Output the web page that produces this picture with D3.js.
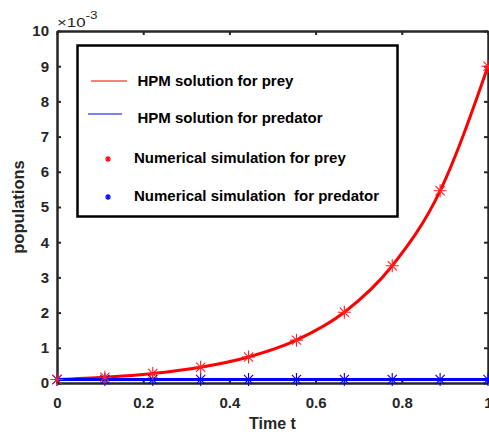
<!DOCTYPE html>
<html><head><meta charset="utf-8">
<script src="https://cdn.jsdelivr.net/npm/d3@7"></script>
<style>body{margin:0;background:#fff}svg{display:block}</style>
</head><body>
<svg id="c" width="489" height="432"></svg>
<script>
const tValues = [0, 0.1111, 0.2222, 0.3333, 0.4444, 0.5556, 0.6667, 0.7778, 0.8889, 1.0];
const preyValues = [0.10, 0.165, 0.272, 0.448, 0.739, 1.218, 2.009, 3.33, 5.46, 9.0];
const predatorValues = [0.10, 0.10, 0.10, 0.10, 0.10, 0.10, 0.10, 0.10, 0.10, 0.10];
const xTicks = [0, 0.2, 0.4, 0.6, 0.8, 1];
const yTicks = [0,1,2,3,4,5,6,7,8,9,10];
const legendLabels = ["HPM solution for prey","HPM solution for predator","Numerical simulation for prey","Numerical simulation  for predator"];

const svg = d3.select("#c");
const L=57,R=488,T=31,B=383;
const x = d3.scaleLinear().domain([0,1]).range([L,R]);
const y = d3.scaleLinear().domain([0,10]).range([B,T]);
const axisColor="#262626";
const font="'Liberation Sans', Arial, Helvetica, sans-serif";

// axes
const gx = svg.append("g").attr("transform",`translate(0,${B})`)
  .call(d3.axisBottom(x).tickValues(xTicks).tickFormat(d3.format("")).tickSizeInner(-4).tickSizeOuter(0).tickPadding(14));
const gxt = svg.append("g").attr("transform",`translate(0,${T})`)
  .call(d3.axisTop(x).tickValues(xTicks).tickFormat("").tickSizeInner(-4).tickSizeOuter(0));
const gy = svg.append("g").attr("transform",`translate(${L},0)`)
  .call(d3.axisLeft(y).tickValues(yTicks).tickFormat(d3.format("d")).tickSizeInner(-4).tickSizeOuter(0).tickPadding(8));
const gyr = svg.append("g").attr("transform",`translate(${R},0)`)
  .call(d3.axisRight(y).tickValues(yTicks).tickFormat("").tickSizeInner(-4).tickSizeOuter(0));
[gx,gxt,gy,gyr].forEach(g=>{
  g.select(".domain").attr("stroke",axisColor).attr("stroke-width",2.5);
  g.selectAll(".tick line").attr("stroke",axisColor).attr("stroke-width",2);
  g.selectAll("text").attr("fill",axisColor).style("font-family",font).style("font-size","15px").style("font-weight","bold");
});

// lines
const line = d3.line().x((d,i)=>x(tValues[i])).y(d=>y(d)).curve(d3.curveMonotoneX);
svg.append("path").datum(preyValues).attr("d",line).attr("fill","none").attr("stroke","#ff0000").attr("stroke-width",3);
svg.append("path").datum(predatorValues).attr("d",line).attr("fill","none").attr("stroke","#0000ff").attr("stroke-width",3);

function star(g, cx, cy, r, color, sw){
  const a = r*0.7071;
  const p = `M${cx-r},${cy}L${cx+r},${cy}M${cx},${cy-r}L${cx},${cy+r}M${cx-a},${cy-a}L${cx+a},${cy+a}M${cx-a},${cy+a}L${cx+a},${cy-a}`;
  g.append("path").attr("d",p).attr("stroke",color).attr("stroke-width",sw).attr("fill","none");
}
const mk = svg.append("g");
predatorValues.forEach((v,i)=>star(mk,x(tValues[i]),y(v),6.5,"#0000ff",1.1));
preyValues.forEach((v,i)=>star(mk,x(tValues[i]),y(v),6.5,"#ff2020",1.1));

// exponent
const ex = svg.append("text").attr("transform","translate(57,27) scale(1.35,1)").attr("fill",axisColor).style("font-family",font).style("font-size","12.5px");
ex.append("tspan").text("×10");
ex.append("tspan").attr("dy",-8).style("font-size","10px").text("-3");

// axis labels
svg.append("text").attr("x",(L+R)/2).attr("y",429).attr("text-anchor","middle").attr("fill",axisColor)
  .style("font-family",font).style("font-size","16px").style("font-weight","bold").text("Time t");
svg.append("text").attr("transform",`translate(24,${(T+B)/2}) rotate(-90)`).attr("text-anchor","middle").attr("fill",axisColor)
  .style("font-family",font).style("font-size","16.5px").style("font-weight","bold").text("populations");

// legend
const lg = svg.append("g");
lg.append("rect").attr("x",77.5).attr("y",45.5).attr("width",320).attr("height",171).attr("fill","#fff").attr("stroke","#000").attr("stroke-width",2.5);
const legendY=[81,118,158,196];
lg.append("line").attr("x1",91).attr("x2",127).attr("y1",legendY[0]).attr("y2",legendY[0]).attr("stroke","#ff0000").attr("stroke-width",1);
lg.append("line").attr("x1",88).attr("x2",122).attr("y1",legendY[1]-4).attr("y2",legendY[1]-4).attr("stroke","#0000ff").attr("stroke-width",1);
star(lg,108,legendY[2]+1,3,"#ff0000",1.2);
star(lg,108,legendY[3]+1,3,"#0000ff",1.2);
const tx=[137.5,137.5,134,134];
legendLabels.forEach((s,i)=>{
  lg.append("text").attr("x",tx[i]).attr("y",legendY[i]).attr("dy","0.35em").attr("fill","#000")
    .attr("xml:space","preserve").style("white-space","pre")
    .style("font-family",font).style("font-size","15px").style("font-weight","bold").text(s);
});
</script>
</body></html>
